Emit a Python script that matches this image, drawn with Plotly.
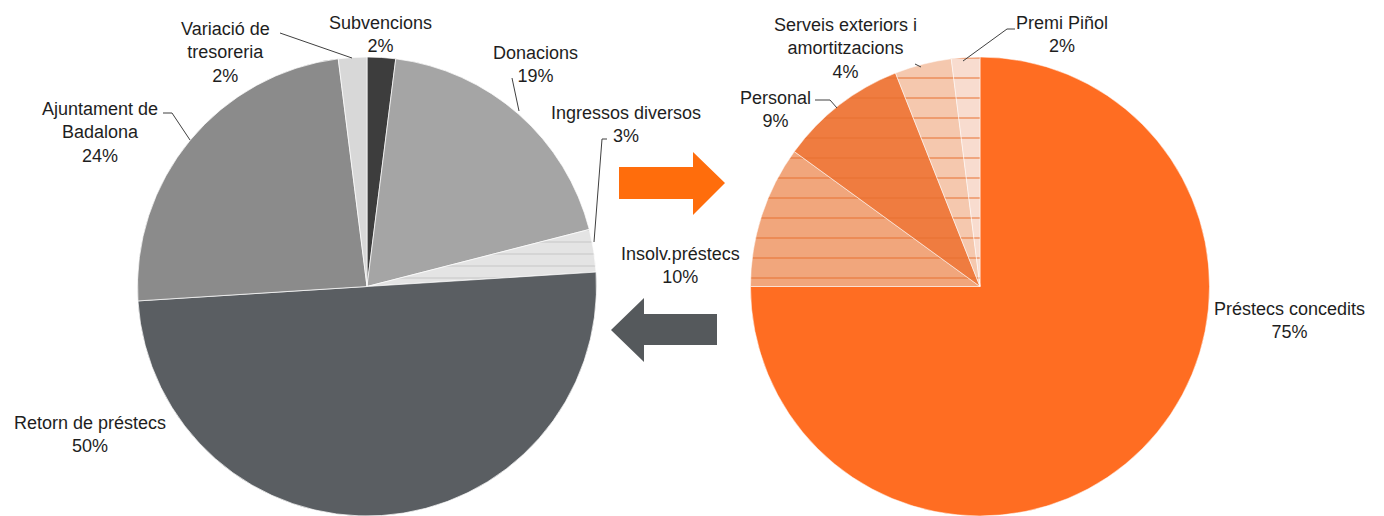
import plotly.graph_objects as go

# ---- data ----
in_labels = ["Subvencions", "Donacions", "Ingressos diversos", "Retorn de préstecs",
             "Ajuntament de Badalona", "Variació de tresoreria"]
in_display = ["Subvencions", "Donacions", "Ingressos diversos", "Retorn de préstecs",
              "Ajuntament de<br>Badalona", "Variació de<br>tresoreria"]
in_values = [2, 19, 3, 50, 24, 2]
in_colors = ["#3d3d3d", "#a5a5a5", "#e4e4e4", "#5a5e62", "#8b8b8b", "#d8d8d8"]

out_labels = ["Préstecs concedits", "Insolv.préstecs", "Personal",
              "Serveis exteriors i amortitzacions", "Premi Piñol"]
out_display = ["Préstecs concedits", "Insolv.préstecs", "Personal",
               "Serveis exteriors i<br>amortitzacions", "Premi Piñol"]
out_values = [75, 10, 9, 4, 2]
out_colors = ["#ff6d22", "#f1a67c", "#ef7c40", "#f5c8ae", "#f8dccf"]

# page has an 8px body margin; figure sized so it ends at the window edge
OFF = 8
W, H = 1384 - OFF, 516 - OFF

def px(x, y):
    return (x - OFF) / W, 1 - (y - OFF) / H

def dom(x0, x1, ytop, ybot):
    a, b = px(x0, ytop)
    c, d = px(x1, ybot)
    return dict(x=[max(0, a), min(1, c)], y=[max(0, d), min(1, b)])

fig = go.Figure()
fig.add_trace(go.Pie(
    labels=in_labels, values=in_values, sort=False, direction="clockwise", rotation=0,
    marker=dict(colors=in_colors, line=dict(color="rgba(255,255,255,0.7)", width=1),
                pattern=dict(shape=["", "", "-", "", "", ""], fgcolor="#c4c4c4",
                             bgcolor=in_colors, size=12, solidity=0.08)),
    textinfo="none", hoverinfo="label+percent",
    domain=dom(135, 599, 57, 520), showlegend=False,
))
fig.add_trace(go.Pie(
    labels=out_labels, values=out_values, sort=False, direction="clockwise", rotation=0,
    marker=dict(colors=out_colors, line=dict(color="rgba(255,255,255,0.5)", width=1),
                pattern=dict(shape=["", "-", "-", "-", "-"], fgcolor="#e8702f",
                             bgcolor=out_colors, size=20, solidity=0.05)),
    textinfo="none", hoverinfo="label+percent",
    domain=dom(748, 1212, 57, 520), showlegend=False,
))

# label anchor positions (page pixels: center x, top y)
in_pos = [(380, 11), (535, 41), (626, 101), (90, 411), (100, 97), (225, 17)]
out_pos = [(1289, 297), (680, 242), (775, 86), (845, 13), (1062, 11)]

annotations = []
def add_labels(disp, vals, pos):
    tot = sum(vals)
    for d, v, (x, y) in zip(disp, vals, pos):
        pct = round(100 * v / tot)
        ax, ay = px(x, y)
        annotations.append(dict(
            x=ax, y=ay, xref="paper", yref="paper", xanchor="center", yanchor="top",
            text=f"{d}<br>{pct}%", showarrow=False, align="center",
            font=dict(family="Liberation Sans, Arial, sans-serif", size=18, color="#1e1e1e"),
        ))
add_labels(in_display, in_values, in_pos)
add_labels(out_display, out_values, out_pos)

# leader lines (page pixel polylines)
leaders = [
    [(280, 33), (352, 58)],
    [(512, 78), (519, 111)],
    [(607, 139), (602, 139), (594, 242)],
    [(163, 113), (172, 113), (190, 140)],
    [(815, 100), (830, 100), (837, 108)],
    [(915, 64), (921, 67)],
    [(1015, 29), (1007, 29), (963, 61)],
]
shapes = []
for pts in leaders:
    path = "M " + " L ".join(f"{px(x, y)[0]},{px(x, y)[1]}" for x, y in pts)
    shapes.append(dict(type="path", xref="paper", yref="paper", path=path,
                       line=dict(color="#404040", width=1)))

def arrow(pts, color):
    path = "M " + " L ".join(f"{px(x, y)[0]},{px(x, y)[1]}" for x, y in pts) + " Z"
    return dict(type="path", xref="paper", yref="paper", path=path,
                fillcolor=color, line=dict(width=0))

shapes.append(arrow([(619, 167), (693, 167), (693, 152), (725, 183), (693, 215),
                     (693, 199), (619, 199)], "#ff6d0c"))
shapes.append(arrow([(717, 314), (644, 314), (644, 298), (611, 330), (644, 362),
                     (644, 345), (717, 345)], "#55595c"))

fig.update_layout(
    width=W, height=H, margin=dict(l=0, r=0, t=0, b=0),
    paper_bgcolor="white", plot_bgcolor="white",
    annotations=annotations, shapes=shapes,
)
fig.write_html("out.html")
